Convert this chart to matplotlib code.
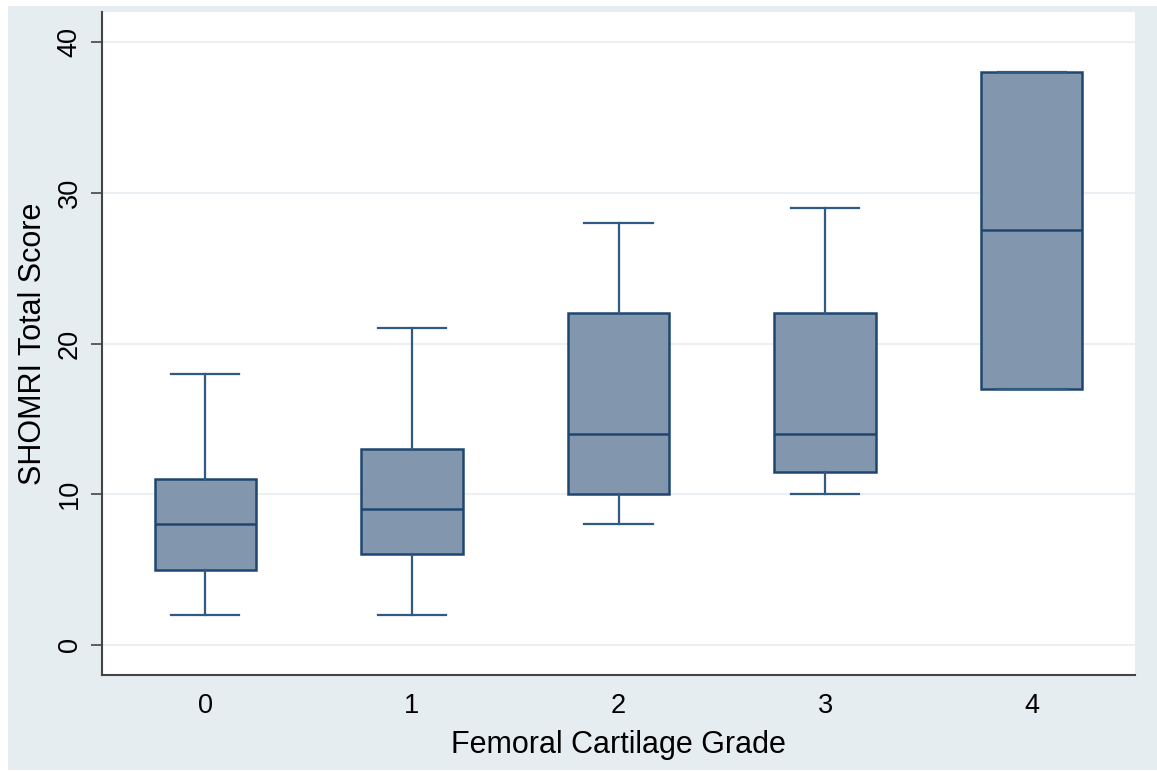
import matplotlib
matplotlib.use("Agg")
import matplotlib.pyplot as plt
from matplotlib.patches import Rectangle

grades = ["0", "1", "2", "3", "4"]
whisker_low = [2, 2, 8, 10, 17]
q1 = [5, 6, 10, 11.5, 17]
median = [8, 9, 14, 14, 27.5]
q3 = [11, 13, 22, 22, 38]
whisker_high = [18, 21, 28, 29, 38]
yticks = [0, 10, 20, 30, 40]

plt.rcParams['font.family'] = ['Liberation Sans', 'DejaVu Sans']

fig = plt.figure(figsize=(11.57, 7.71), dpi=100)
fig.patch.set_facecolor('white')
bg = Rectangle((8 / 1157, 1 / 771), 1 - 8 / 1157, 1 - 7 / 771, transform=fig.transFigure,
               facecolor='#E6EDF0', edgecolor='none', zorder=-10)
fig.patches.append(bg)

ax = fig.add_axes([102 / 1157, 1 - 675 / 771, (1135 - 102) / 1157, (675 - 12) / 771])
ax.set_facecolor('white')

stats = []
for i, g in enumerate(grades):
    stats.append(dict(label=g, whislo=whisker_low[i], q1=q1[i], med=median[i],
                      q3=q3[i], whishi=whisker_high[i], fliers=[]))

edge = '#1F4670'
fill = '#8297AD'
line = '#2E5A84'
ax.bxp(stats, positions=range(len(grades)), widths=0.49, patch_artist=True,
       showfliers=False, capwidths=0.33,
       boxprops=dict(facecolor=fill, edgecolor=edge, linewidth=1.8),
       medianprops=dict(color=edge, linewidth=1.8),
       whiskerprops=dict(color=line, linewidth=1.6),
       capprops=dict(color=line, linewidth=1.6))

ax.set_xlim(-0.5, 4.5)
ax.set_ylim(-2, 42)
ax.set_yticks(yticks)
ax.set_yticklabels([str(t) for t in yticks], rotation=90, va='center', fontsize=19.5)
ax.set_xticks(range(len(grades)))
ax.set_xticklabels(grades, fontsize=19.5)
ax.tick_params(axis='x', length=0, pad=13)
ax.tick_params(axis='y', length=8, width=1.2, color='#444444', pad=6)
ax.yaxis.grid(True, color='#EAF0F3', linewidth=1.5)
ax.set_axisbelow(True)

for s in ['top', 'right']:
    ax.spines[s].set_visible(False)
for s in ['left', 'bottom']:
    ax.spines[s].set_color('#444444')
    ax.spines[s].set_linewidth(1.5)

ax.set_xlabel('Femoral Cartilage Grade', fontsize=22, labelpad=8)
ax.set_ylabel('SHOMRI Total Score', fontsize=22, labelpad=6)

fig.savefig('out.png', dpi=100, facecolor=fig.get_facecolor())
